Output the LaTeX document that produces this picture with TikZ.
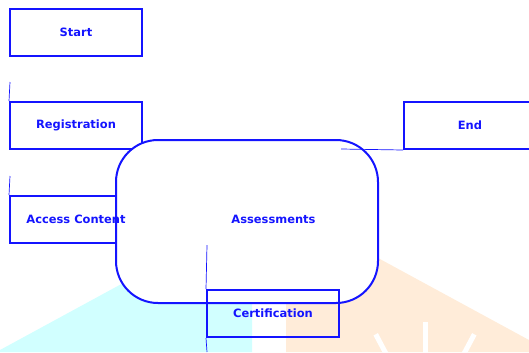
\documentclass[tikz,border=0pt]{standalone}
\usepackage{fontspec}
\setmainfont{DejaVu Sans}
\definecolor{cyanbg}{RGB}{209,255,255}
\definecolor{peachbg}{RGB}{255,236,217}
\definecolor{flowblue}{RGB}{20,20,255}

\begin{document}
\begin{tikzpicture}[x=1bp, y=-1bp,
  every node/.style = {shape=rectangle, draw=flowblue, line width=2bp,
    align=center, text=flowblue, inner sep=0pt,
    font=\fontsize{11.5}{13}\selectfont\bfseries,
    minimum width=132bp, minimum height=47bp},
  roundbox/.style = {rounded corners=42bp, fill=white,
    minimum width=262bp, minimum height=163bp},
  textonly/.style = {draw=none, minimum width=0pt, minimum height=0pt},
  link/.style = {draw=flowblue, line width=0.7bp}]
  \useasboundingbox (0,0) rectangle (529,352);
  \clip (0,0) rectangle (529,352);
  % background
  \fill[cyanbg] (0,352) -- (0,350) -- (252,213) -- (252,352) -- cycle;
  \fill[peachbg] (286,352) -- (286,208) -- (529,340) -- (529,352) -- cycle;
  \foreach \ang in {62,90,118}
    \draw[white, line width=5bp] (425,427) ++(-\ang:50) -- ++(-\ang:55);
  % steps
  \node (start) at (76,32.5) {Start};
  \node (reg) at (76,125.5) {Registration};
  \node (accessbox) at (76,219.5) {};
  \node[minimum width=140bp] (end) at (474,125.5) {};
  \node[textonly] (endtext) at (470,125.5) {End};
  \node[roundbox] (assess) at (247,221.5) {};
  \node[textonly] (assesstext) at (273.5,219.5) {Assessments};
  \node[textonly] (access) at (accessbox.center) {Access Content};
  \node (cert) at (273,313.5) {Certification};
  % connectors
  \coordinate (c1) at (10,82);
  \coordinate (c2) at (10,176);
  \coordinate (c3) at (341,149);
  \coordinate (c4) at (207,245);
  \coordinate (c5) at (207,352);
  \draw[link] (c1) -- (reg.north west);
  \draw[link] (c2) -- (accessbox.north west);
  \draw[link] (c3) -- (end.south west);
  \draw[link] (c4) -- (cert.north west);
  \draw[link] (cert.south west) -- (c5);
\end{tikzpicture}
\end{document}
